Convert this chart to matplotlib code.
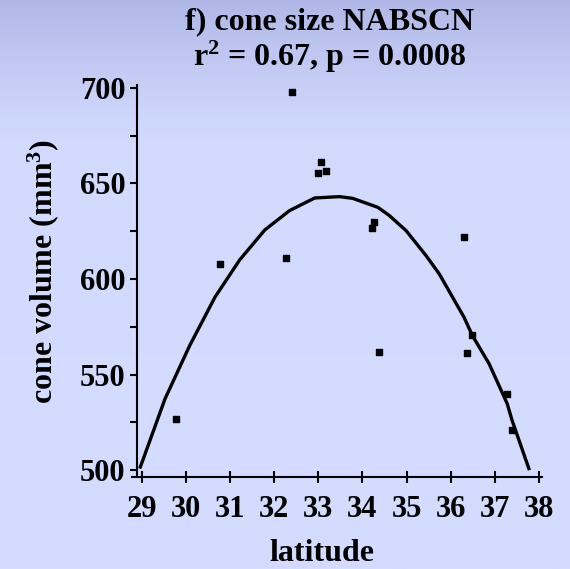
import matplotlib.pyplot as plt
import numpy as np
from matplotlib.colors import LinearSegmentedColormap

# scatter points
latitude = [32.40, 33.07, 33.00, 33.18, 34.27, 34.21, 36.30, 30.78, 32.28,
            34.38, 36.38, 36.49, 37.27, 37.39, 29.77]
cone_volume = [697.8, 661.2, 655.5, 656.7, 630.0, 626.5, 622.2, 607.9, 611.2,
               562.1, 561.3, 570.9, 540.1, 521.3, 526.6]

# quadratic fit line (vertices)
fit_lat = [28.97, 29.53, 30.09, 30.66, 31.22, 31.79, 32.35, 32.92, 33.48, 33.78,
           34.35, 34.61, 34.99, 35.44, 35.74, 36.30, 36.49, 36.87, 37.28, 37.39, 37.77]
fit_vol = [501.7, 537.4, 565.3, 590.5, 610.0, 625.7, 635.8, 642.4, 643.1, 642.2,
           637.5, 633.2, 625.3, 612.3, 602.7, 580.1, 570.5, 555.7, 534.8, 526.1, 500.9]

x_ticks = list(range(29, 39))
y_ticks = [500, 550, 600, 650, 700]

plt.rcParams['mathtext.fontset'] = 'custom'
plt.rcParams['mathtext.rm'] = 'Liberation Serif:bold'
plt.rcParams['mathtext.bf'] = 'Liberation Serif:bold'
plt.rcParams['mathtext.it'] = 'Liberation Serif:bold'

bold = dict(family='Liberation Serif', weight='bold')

fig = plt.figure(figsize=(5.7, 5.69), dpi=100)

# background gradient (darker at the top)
bg = fig.add_axes([0, 0, 1, 1], zorder=-10)
cmap = LinearSegmentedColormap.from_list(
    'bg', [(0, '#b1b8e8'), (0.12, '#c3cbf4'), (0.25, '#d2dbfe'), (1, '#d4ddff')])
bg.imshow(np.linspace(0, 1, 256).reshape(-1, 1), aspect='auto', cmap=cmap,
          extent=[0, 1, 0, 1])
bg.axis('off')

ax = fig.add_axes([0.231, 0.1617, 0.7193, 0.689])
ax.patch.set_alpha(0)
ax.plot(fit_lat, fit_vol, color='black', lw=2.4, solid_joinstyle='miter')
ax.scatter(latitude, cone_volume, marker='s', s=22, color='black', zorder=3)

ax.set_xlim(28.774, 38.06)
ax.set_ylim(496.5, 701.5)
ax.spines['left'].set_position(('data', 28.887))
ax.set_xticks(x_ticks)
ax.set_yticks(y_ticks)
ax.set_yticks([525, 575, 625, 675], minor=True)
for s in ['top', 'right']:
    ax.spines[s].set_visible(False)
for s in ['left', 'bottom']:
    ax.spines[s].set_linewidth(1.5)
ax.tick_params(axis='x', direction='inout', length=8, width=1.5, pad=9)
ax.tick_params(axis='y', which='both', direction='out', length=5, width=1.5, pad=3)
for lab in ax.get_xticklabels() + ax.get_yticklabels():
    lab.set_family('Liberation Serif')
    lab.set_weight('bold')
    lab.set_fontsize(22)

fig.text(0.579, 0.9485, 'f) cone size NABSCN', ha='center', va='baseline', fontsize=23, **bold)
fig.text(0.579, 0.884, r'r$^{2}$ = 0.67, p = 0.0008', ha='center', va='baseline',
         fontsize=23, **bold)
fig.text(0.564, 0.0135, 'latitude', ha='center', va='baseline', fontsize=23, **bold)
fig.text(0.076, 0.523, r'cone volume (mm$^{3}$)', ha='center', va='center',
         rotation=90, fontsize=23, **bold)

fig.savefig('out.png', dpi=100)
